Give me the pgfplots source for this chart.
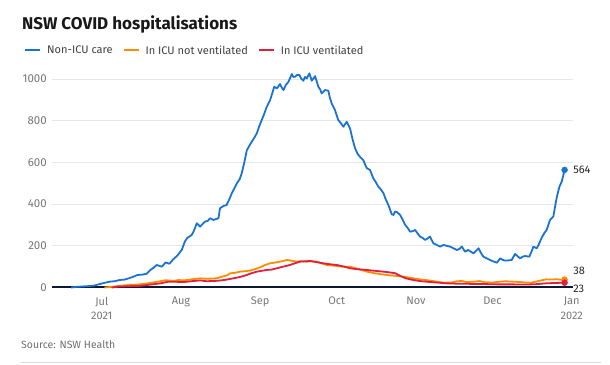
\documentclass[border=0pt]{standalone}
\usepackage{pgfplots}
\pgfplotsset{compat=1.18}
\usepackage{fontspec}
\setmainfont{Fira Sans}
\definecolor{cblue}{HTML}{1A73D2}
\definecolor{corange}{HTML}{FF8C00}
\definecolor{cred}{HTML}{E0203C}
\definecolor{cnavy}{HTML}{0D1833}
\definecolor{cgrid}{HTML}{E6E6E6}
\definecolor{ctick}{HTML}{777777}
\definecolor{csrc}{HTML}{6E6E6E}
\definecolor{crule}{HTML}{D5D8E6}
\begin{document}
\begin{tikzpicture}[x=1pt,y=1pt]
\useasboundingbox (0,0) rectangle (610,364);
\node[anchor=base west, inner sep=0, font=\fontsize{17}{20}\selectfont\bfseries, text=black!90] at (22,334) {NSW COVID hospitalisations};
\node[anchor=base west, inner sep=0, font=\fontsize{10.5}{12}\selectfont, text=csrc] at (21,15.7) {Source: NSW Health};
\draw[crule, line width=1pt] (21,1.5) -- (601,1.5);
\begin{axis}[
  at={(52pt,76.5pt)}, anchor=south west,
  scale only axis, width=521pt, height=218.9pt,
  xmin=-19.5, xmax=184.5, ymin=0, ymax=1050,
  clip=false,
  axis x line*=bottom, axis y line*=left,
  x axis line style={cnavy, line width=2pt},
  y axis line style={draw=none},
  major tick length=0pt,
  ymajorgrids, grid style={cgrid, line width=0.8pt},
  ytick={0,200,400,600,800,1000},
  xtick={0,31,62,92,123,153,184},
  xticklabels={{Jul\\2021},Aug,Sep,Oct,Nov,Dec,{Jan\\2022}},
  /pgf/number format/assume math mode=true,
  /pgf/number format/1000 sep={},
  every tick label/.append style={inner sep=0pt},
  yticklabel style={font=\fontsize{11.5}{13}\selectfont, text=ctick, anchor=east, xshift=-5pt},
  xticklabel style={font=\fontsize{11}{14.4}\selectfont, text=ctick, align=center, anchor=north, yshift=-9.5pt},
  legend columns=3,
  legend cell align=left,
  legend image code/.code={\draw[#1, line width=2pt] (0pt,0pt) -- (15pt,0pt);},
  legend style={at={(axis description cs:-0.0537,1.0827)}, anchor=west, draw=none, fill=none, inner sep=0pt,
    font=\fontsize{11}{13}\selectfont, text=black!75, nodes={inner sep=0pt},
    /tikz/every odd column/.append style={column sep=6pt},
    /tikz/every even column/.append style={column sep=10pt}},
]
\addplot[cblue, line width=1.8pt, line join=round] table {
x y
-12 0
-10 3
-6 6
-3 9
-1 16
1 22
3 28
5 30
7 36
9 38
10.5 44
12 50
14 60
16 62
17.6 66
19 84
20 92
21.5 108
22.5 104
23.5 100
25 120
26.5 114
28 136
29.5 152
31.3 180
32.5 220
33.5 238
35.2 252
36 270
37.2 308
38.5 292
39.5 305
40.4 316
41.5 320
42.4 332
43.7 324
45.2 330
45.7 334
46.3 380
47.5 390
48.9 396
49.8 420
50.9 452
52 478
52.9 500
54 520
54.8 548
55.8 600
56.8 659
57.8 680
58.7 699
59.8 720
60.7 740
61.7 775
62.6 803
63.5 830
64.6 867
65.9 899
66.7 930
67.5 963
68.5 955
69.8 976
70.4 960
71.1 947
72 970
73.1 987
74.4 1024
75 1010
75.7 1011
76.5 1020
77.4 1019
78.2 1000
78.9 992
79.6 1010
80.3 1003
81.3 1027
82.2 992
83 1005
83.5 1014
84.8 963
85.5 950
86.1 931
87.4 947
88.7 944
89.3 910
90 883
91.3 851
92.6 803
93.5 790
94.6 771
95.9 795
97.2 763
98.2 710
99.2 667
100.2 640
101.1 627
102.4 611
103.1 590
103.8 572
105 564
106.3 524
107.3 505
108.3 483
109.3 470
110.3 452
111 428
112.2 396
113.5 352
114.2 348
114.8 364
115.5 362
116.8 348
117.8 325
118.8 300
119.8 285
120.7 268
121.7 270
122.7 276
123.6 260
124.6 244
125.6 238
126.6 228
127.5 235
128.5 244
129.8 212
131 205
132.5 196
133.8 204
135 200
136.4 196
137.7 188
139 180
140 185
141 196
142.2 172
143.5 180
144.5 172
145.5 164
146.5 175
147.5 188
148.5 165
149.4 148
150.7 140
152 132
153.3 125
154.7 119
156 140
157 132
157.9 129
159.2 130
160.5 132
161.8 161
162.8 150
163.8 140
164.8 148
165.7 151
167.4 148
168.2 170
169 196
170.3 188
171 204
172.3 240
173.3 262
174.2 276
175.5 324
176.8 340
177.5 390
178.2 436
179.2 484
180.1 508
181.2 564
};
\addlegendentry{Non-ICU care}
\addplot[corange, line width=1.8pt, line join=round] table {
x y
1 0
2 1
5 5
8 9
11 13
14 14
17 18
19 22
22 28
25 35
28 31
30 36
32 34
35 39
38.5 44
41 42
45 44
47 52
49 58
50.2 68
52 70
54 76
56 78
58 81
60 88
62 97
64 108
65.9 116
68 120
69.8 124
72.5 132
74.5 128
76.3 124
78 126
80.3 124
82 126
84.2 124
86 116
88.1 108
90 106
92 103
94 100
97.2 100
100 90
103.8 76
107 68
110.3 62
113 58
116.8 54
119 50
122 44
125 38
127 36
130 30
134 23
137 24
139 30
141 31
143 26
145.5 28
148 31
150 25
153 24
156 28
158 30
161 28
164 26
166 24
168 23
170 28
172 34
174 39
176 38
178 40
180 37
181.2 38
};
\addlegendentry{In ICU not ventilated}
\addplot[cred, line width=1.8pt, line join=round] table {
x y
4 0
6 4
10 6
15 8
19 14
23 20
26 28
30 27
32 26
35 30
38.5 34
41 30
45 32
48 36
51.5 44
54 50
56.8 60
58.5 68
60.7 76
62.5 80
64.6 84
66.5 86
68.5 92
71 100
73.7 108
75.5 116
77.6 124
80 126
81.6 127
84 122
86.8 116
89 112
92 108
95 100
97.2 92
100 88
103.8 84
107 80
110.3 76
113 72
115 68
116.8 56
119 44
122 36
125 30
127 28
131 24
135 20
140 18
148 17
155 15
161 15
166 14
170 16
174 20
178 22
181.2 23
};
\addlegendentry{In ICU ventilated}
\addplot[only marks, mark=*, mark size=3pt, cblue, forget plot] coordinates {(181.2,564)};
\addplot[only marks, mark=*, mark size=3pt, corange, forget plot] coordinates {(181.2,38)};
\addplot[only marks, mark=*, mark size=3pt, cred, forget plot] coordinates {(181.2,23)};
\node[anchor=west, inner sep=0pt, xshift=8.5pt, font=\fontsize{11}{13}\selectfont, text=black!85] at (axis cs:181.2,564) {564};
\node[anchor=west, inner sep=0pt, xshift=8.5pt, yshift=9pt, font=\fontsize{11}{13}\selectfont, text=black!85] at (axis cs:181.2,38) {38};
\node[anchor=west, inner sep=0pt, xshift=8.5pt, yshift=-6.5pt, font=\fontsize{11}{13}\selectfont, text=black!85] at (axis cs:181.2,23) {23};
\end{axis}
\end{tikzpicture}
\end{document}
